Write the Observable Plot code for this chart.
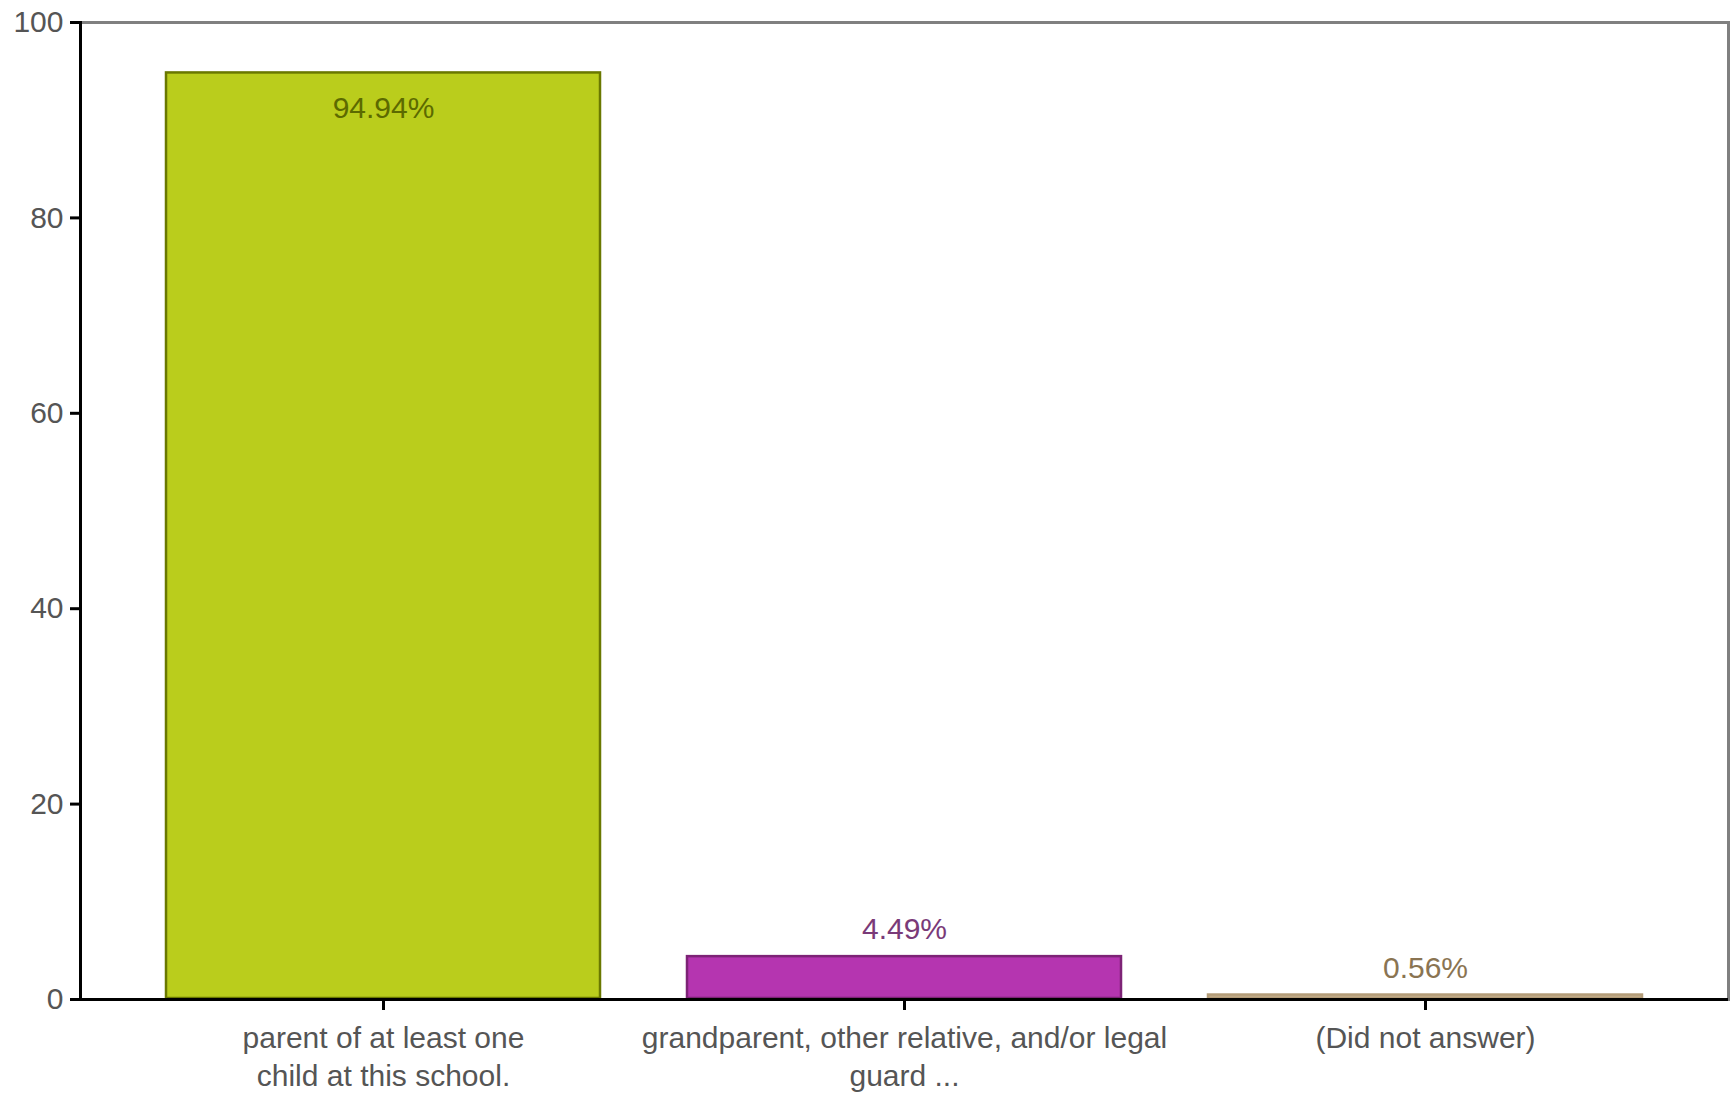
<!DOCTYPE html>
<html>
<head>
<meta charset="utf-8">
<script src="https://cdn.jsdelivr.net/npm/d3@7"></script>
<script src="https://cdn.jsdelivr.net/npm/@observablehq/plot@0.6"></script>
<style>
  html, body { margin: 0; padding: 0; background: #fff; }
</style>
</head>
<body>
<div id="chart"></div>
<script>
const categories = [
  "parent of at least one child at this school.",
  "grandparent, other relative, and/or legal guard ...",
  "(Did not answer)"
];
const tickLabels = [
  "parent of at least one\nchild at this school.",
  "grandparent, other relative, and/or legal\nguard ...",
  "(Did not answer)"
];
const values = [94.94, 4.49, 0.56];
const valueLabels = ["94.94%", "4.49%", "0.56%"];
const fills = ["#bacd1c", "#b535b0", "#c4ad8c"];
const strokes = ["#6a7800", "#7d2376", "#b39c78"];
const labelColors = ["#5c6a00", "#7a3a78", "#8a7452"];
const yTicks = [0, 20, 40, 60, 80, 100];

const data = categories.map((c, i) => ({
  cat: c, value: values[i], label: valueLabels[i],
  fill: fills[i], stroke: strokes[i], lc: labelColors[i], inside: i === 0
}));

const chart = Plot.plot({
  width: 1731,
  height: 1097,
  marginLeft: 80,
  marginRight: 3,
  marginTop: 22,
  marginBottom: 98,
  style: { fontFamily: "'Liberation Sans', Arial, sans-serif", fontSize: "30px", background: "#fff" },
  x: { domain: categories, padding: 0.163, label: null },
  y: { domain: [0, 100], label: null },
  marks: [
    Plot.frame({ stroke: "#808080", strokeWidth: 3 }),
    Plot.barY(data, { x: "cat", y: "value", fill: "fill", stroke: "stroke", strokeWidth: 2.5, inset: 1 }),
    Plot.text(data.filter(d => d.inside), { x: "cat", y: "value", text: "label", fill: "lc", dy: 36, fontSize: 30 }),
    Plot.text(data.filter(d => !d.inside), { x: "cat", y: "value", text: "label", fill: "lc", dy: -26, fontSize: 30 }),
    Plot.frame({ anchor: "left", stroke: "#000", strokeWidth: 3 }),
    Plot.ruleY([0], { stroke: "#000", strokeWidth: 3 }),
    Plot.axisY({ ticks: yTicks, tickSize: 10, tickPadding: 7, fill: "#555", stroke: "#000", strokeWidth: 3, label: null }),
    Plot.axisX({ tickSize: 11, tickPadding: 10, fill: "#555", stroke: "#000", strokeWidth: 3, lineHeight: 1.27,
      tickFormat: (d) => tickLabels[categories.indexOf(d)], label: null })
  ]
});
document.getElementById("chart").appendChild(chart);
</script>
</body>
</html>
